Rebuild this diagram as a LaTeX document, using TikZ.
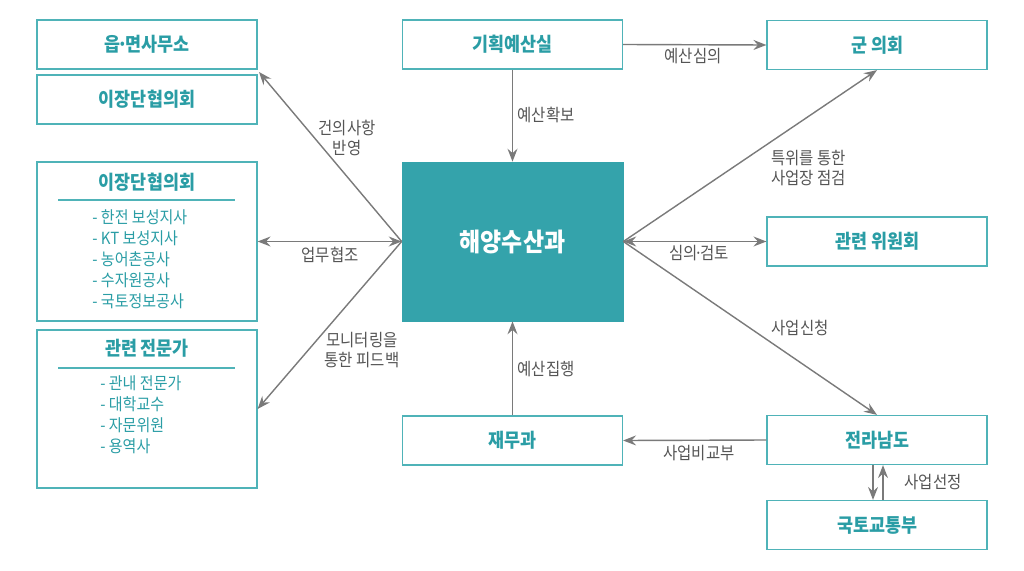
\documentclass[tikz,border=0pt]{standalone}
\usepackage{fontspec}
\setmainfont[FakeStretch=0.9]{Noto Sans CJK KR}
\usepackage{xcolor}
\usetikzlibrary{positioning,calc,arrows.meta}
\definecolor{tealtext}{HTML}{2A9DA5}
\definecolor{tealline}{HTML}{4FB3B8}
\definecolor{tealfill}{HTML}{34A3AB}
\definecolor{arrowgray}{HTML}{7A7A7A}
\definecolor{labelgray}{HTML}{555555}
\newcommand{\mdot}{\kern-0.17em·\kern-0.17em}

\begin{document}
\begin{tikzpicture}[x=0.02cm, y=-0.02cm,
    box/.style={draw=tealline, line width=0.7pt, rectangle, minimum width=4.4cm, minimum height=0.98cm, inner sep=0pt, text=tealtext, font=\bfseries\fontsize{11}{13}\selectfont},
    listbox/.style={draw=tealline, line width=0.7pt, rectangle, minimum width=4.4cm, inner sep=0pt},
    main/.style={draw=tealfill, fill=tealfill, rectangle, minimum width=4.42cm, minimum height=3.18cm, inner sep=0pt, text=white, font=\bfseries\fontsize{14.5}{16}\selectfont},
    head/.style={text=tealtext, font=\bfseries\fontsize{11}{13}\selectfont},
    items/.style={text=tealtext, align=left, inner sep=0pt, anchor=west, font=\fontsize{9.5}{12}\selectfont},
    lbl/.style={text=labelgray, align=center, inner sep=0pt, font=\fontsize{9.8}{11.3}\selectfont},
    arr/.style={draw=arrowgray, line width=0.8pt, -{Stealth[length=2.6mm,width=2mm,inset=0.9mm]}},
    darr/.style={draw=arrowgray, line width=0.8pt, {Stealth[length=2.6mm,width=2mm,inset=0.9mm]}-{Stealth[length=2.6mm,width=2mm,inset=0.9mm]}}]
    \useasboundingbox (0,0) rectangle (1024,571);

    % center
    \node [main] (sea) at (512.5,241.5) {해양수산과};

    % left column
    \node [box] (eup) at (147,44.5) {읍\mdot 면사무소};
    \node [box] (ridong) at (147,99.5) {이장단협의회};
    \node [listbox, minimum height=3.18cm] (org) at (147,241.5) {};
    \node [head] (orghead) at (147,182) {이장단협의회};
    \draw [tealline, line width=0.7pt] (58,200) -- (235,200);
    \node [items] (orglist) at (92,259.5) {- 한전 보성지사\\- KT 보성지사\\- 농어촌공사\\- 수자원공사\\- 국토정보공사};
    \node [listbox, minimum height=3.16cm] (expert) at (147,409) {};
    \node [head] (experthead) at (147,348) {관련 전문가};
    \draw [tealline, line width=0.7pt] (58,368) -- (235,368);
    \node [items] (expertlist) at (100,415) {- 관내 전문가\\- 대학교수\\- 자문위원\\- 용역사};

    % middle column
    \node [box] (plan) at (512.5,44.5) {기획예산실};
    \node [box] (finance) at (512.5,440.5) {재무과};

    % right column
    \node [box] (council) at (877,45) {군 의회};
    \node [box] (comm) at (877,241.5) {관련 위원회};
    \node [box] (jeonnam) at (877,440) {전라남도};
    \node [box] (molit) at (877,525) {국토교통부};

    \coordinate (gap) at (259,72);
    \draw [arr] (sea.west) -- (gap);
    \draw [darr] (org.east) -- (sea.west);
    \draw [arr] (sea.west) -- (expert.east);
    \draw [arr] (plan.south) -- (sea.north);
    \draw [arr] (finance.north) -- (sea.south);
    \draw [arr] (plan.east) -- (council.west);
    \draw [arr] (sea.east) -- (council.south);
    \draw [darr] (sea.east) -- (comm.west);
    \draw [arr] (sea.east) -- (jeonnam.north);
    \draw [arr] (jeonnam.west) -- (finance.east);
    \draw [arr] ([xshift=-0.08cm]jeonnam.south) -- ([xshift=-0.08cm]molit.north);
    \draw [arr] ([xshift=0.12cm]molit.north) -- ([xshift=0.12cm]jeonnam.south);

    % labels
    \node [lbl] (l1) at (347,138) {건의사항\\반영};
    \node [lbl] (l2) at (330,255) {업무협조};
    \node [lbl] (l3) at (362,350) {모니터링을\\통한 피드백};
    \node [lbl] (l4) at (546,115) {예산확보};
    \node [lbl] (l5) at (546,369) {예산집행};
    \node [lbl] (l6) at (693,56) {예산심의};
    \node [lbl, anchor=west, align=left] (l7) at (771,168) {특위를 통한\\사업장 점검};
    \node [lbl] (l8) at (699,253) {심의\mdot 검토};
    \node [lbl] (l9) at (800,328) {사업신청};
    \node [lbl] (l10) at (699,453) {사업비교부};
    \node [lbl] (l11) at (933,482) {사업선정};
\end{tikzpicture}
\end{document}
